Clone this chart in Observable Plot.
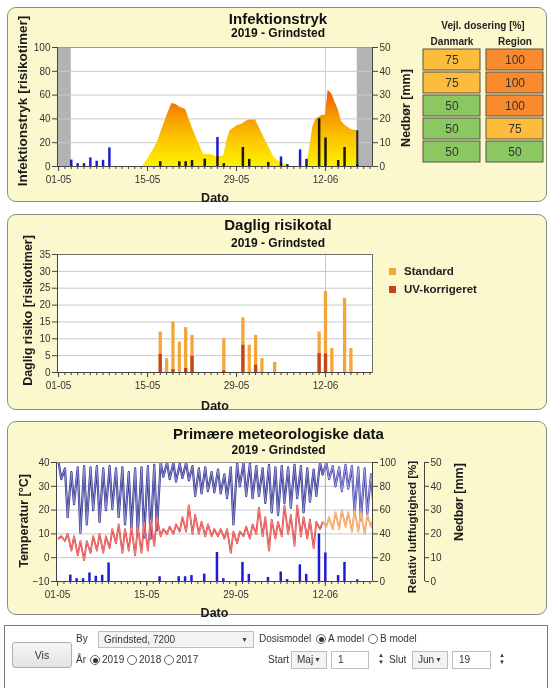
<!DOCTYPE html>
<html><head><meta charset="utf-8">
<script src="https://cdn.jsdelivr.net/npm/d3@7"></script>
<script src="https://cdn.jsdelivr.net/npm/@observablehq/plot@0.6"></script>
<style>
html,body{margin:0;padding:0;background:#fff}
body{position:relative;width:550px;height:688px;overflow:hidden;font-family:Arial,"Liberation Sans",sans-serif}
.panel{position:absolute;left:7px;width:540px;background:#fbf8cd;border:1px solid #8c8c86;border-radius:9px;box-sizing:border-box}
.wrap{position:absolute;left:0}
.wrap svg{overflow:visible;display:block}
.leg{position:absolute;font:bold 11.5px Arial,"Liberation Sans",sans-serif;color:#222;white-space:nowrap;line-height:13px}
.sw{display:inline-block;width:7px;height:7px;margin-right:8px}
.f{position:absolute;font:10px "Liberation Sans",Arial,sans-serif;color:#333;white-space:nowrap;line-height:14px}
.box{position:absolute;border:1px solid #bdbdbd;background:#f3f3f3;box-sizing:border-box;font:10px "Liberation Sans",Arial,sans-serif;color:#333;padding-left:5px;white-space:nowrap}
.box .ar{position:absolute;right:5px;font-size:7px;color:#444}
.in{position:absolute;border:1px solid #bdbdbd;background:#fff;box-sizing:border-box;font:10px "Liberation Sans",Arial,sans-serif;color:#333;padding-left:6px}
.rad{position:absolute;width:10px;height:10px;border:1px solid #666;border-radius:50%;box-sizing:border-box;background:#fff}
.rad.on::after{content:"";position:absolute;left:1.5px;top:1.5px;width:5px;height:5px;border-radius:50%;background:#333}
.spin{position:absolute;font-size:6px;color:#333;line-height:7px}
.btn{position:absolute;border:1px solid #adadad;border-radius:3px;background:linear-gradient(#f6f6f6,#e2e2e2);box-sizing:border-box;font:10.5px "Liberation Sans",Arial,sans-serif;color:#333;text-align:center}
</style></head><body>
<div class="panel" style="top:7px;height:195px"></div>
<div class="panel" style="top:214px;height:196px"></div>
<div class="panel" style="top:421px;height:194px"></div>
<div id="c1" class="wrap" style="top:0"></div>
<div id="c1t" class="wrap" style="top:0;left:418px"></div>
<div id="c2" class="wrap" style="top:207px"></div>
<div id="c3" class="wrap" style="top:415px"></div>
<div id="legend"></div>

<div style="position:absolute;left:4px;top:625px;width:544px;height:70px;border:1px solid #777;box-sizing:border-box;background:#fff"></div>
<div class="btn" style="left:12px;top:642px;width:60px;height:26px;line-height:24px">Vis</div>
<div class="f" style="left:76px;top:632px">By</div>
<div class="box" style="left:98px;top:631px;width:156px;height:17px;line-height:15px">Grindsted, 7200<span class="ar">&#9660;</span></div>
<div class="f" style="left:259px;top:632px">Dosismodel</div>
<div class="rad on" style="left:316px;top:634px"></div><div class="f" style="left:328px;top:632px">A model</div>
<div class="rad" style="left:368px;top:634px"></div><div class="f" style="left:380px;top:632px">B model</div>
<div class="f" style="left:76px;top:653px">År</div>
<div class="rad on" style="left:90px;top:655px"></div><div class="f" style="left:102px;top:653px">2019</div>
<div class="rad" style="left:127px;top:655px"></div><div class="f" style="left:139px;top:653px">2018</div>
<div class="rad" style="left:164px;top:655px"></div><div class="f" style="left:176px;top:653px">2017</div>
<div class="f" style="left:268px;top:653px">Start</div>
<div class="box" style="left:291px;top:651px;width:36px;height:18px;line-height:16px">Maj<span class="ar">&#9660;</span></div>
<div class="in" style="left:331px;top:651px;width:38px;height:18px;line-height:16px">1</div>
<div class="spin" style="left:378px;top:652px">&#9650;<br>&#9660;</div>
<div class="f" style="left:389px;top:653px">Slut</div>
<div class="box" style="left:412px;top:651px;width:36px;height:18px;line-height:16px">Jun<span class="ar">&#9660;</span></div>
<div class="in" style="left:452px;top:651px;width:39px;height:18px;line-height:16px">19</div>
<div class="spin" style="left:499px;top:652px">&#9650;<br>&#9660;</div>

<script>
const parse = s => new Date(s.length === 10 ? s + "T00:00:00Z" : s + ":00Z");

// ---- Infektionstryk (risikotimer) ----
const infDates = ["2019-05-03","2019-05-14T06:00","2019-05-15","2019-05-16","2019-05-16T12:00","2019-05-17","2019-05-18","2019-05-18T20:00","2019-05-19T12:00","2019-05-20","2019-05-21","2019-05-22","2019-05-23","2019-05-23T20:00","2019-05-25","2019-05-26","2019-05-27","2019-05-27T12:00","2019-05-28","2019-05-29","2019-05-30","2019-05-30T12:00","2019-05-31","2019-06-01","2019-06-02","2019-06-03","2019-06-04","2019-06-05","2019-06-06","2019-06-06T18:00","2019-06-09","2019-06-09T12:00","2019-06-10","2019-06-10T12:00","2019-06-11T12:00","2019-06-12","2019-06-12T10:00","2019-06-13","2019-06-13T12:00","2019-06-14","2019-06-14T12:00","2019-06-15","2019-06-16","2019-06-17"];
const infValues = [0,0,6,15,20,27,42,53,52,50,48,33,20,10,10,8,9,22,30,34,36,38,39,39,28,17,7,3,1,0,0,15,33,40,43,43,64,61,54,48,38,35,31,30];

// ---- Nedbør (mm) ----
const rainDates = ["2019-05-03","2019-05-04","2019-05-05","2019-05-06","2019-05-07","2019-05-08","2019-05-09","2019-05-17","2019-05-20","2019-05-21","2019-05-22","2019-05-24","2019-05-26","2019-05-27","2019-05-30","2019-05-31","2019-06-03","2019-06-05","2019-06-06","2019-06-08","2019-06-09","2019-06-11","2019-06-12","2019-06-14","2019-06-15","2019-06-17"];
const rainMm = [2.7,1.2,1.2,3.6,2.2,2.6,7.8,2,2,2,2.5,3.1,12.2,1.2,8,3,1.7,4,0.8,7,3,20,12,2.5,8,0.7];

// ---- Daglig risikotal ----
const riskDates = ["2019-05-17","2019-05-18","2019-05-19","2019-05-20","2019-05-21","2019-05-22","2019-05-27","2019-05-30","2019-05-31","2019-06-01","2019-06-02","2019-06-04","2019-06-11","2019-06-12","2019-06-13","2019-06-15","2019-06-16"];
const riskStandard = [12,4.1,15,9,13.3,11,10,16.2,8.1,11,4.1,3,12,24,7.1,22,7.1];
const riskUV = [5.4,0,0.9,0,1.2,4.8,0.5,8.1,0,2.2,0,0,5.6,5.5,0,0,0];

// ---- Meteorologi, one value per day from 01-05 ----
const metStart = "2019-05-01";
const humNight = [100,95,92,96,97,96,97,95,97,95,96,92,95,96,97,98,100,100,100,99,100,97,95,96,92,94,90,96,99,100,99,97,95,98,96,97,96,98,97,95,94,100,100,97,96,98,97,96,95,90];
const humDay = [86,54,65,41,48,60,50,60,61,54,48,45,40,37,36,43,88,86,84,87,85,72,74,76,75,74,70,48,80,72,70,72,66,58,56,66,62,70,58,67,72,90,86,80,76,78,58,52,57,62];
const tempNight = [8,7,3,1,-1,2,3,2,4,6,2,3,1,2,3,5,9,10,10,11,11,10,10,9,9,9,8,2,6,9,8,10,9,3,8,9,10,5,9,8,4,12,13,12,12,13,11,11,10,13];
const tempDay = [9,10,9,7,7,9,10,9,12,14,12,13,13,15,16,17,12,13,14,17,22,18,15,14,12,12,12,11,11,13,14,21,17,16,15,22,18,22,17,16,15,15,17,19,20,19,20,19,18,17];
const forecastFrom = "2019-06-12";

// ---- Vejl. dosering [%] ----
const doseCols = ["Danmark","Region"];
const doseRows = [1,2,3,4,5];
const doseDanmark = [75,75,50,50,50];
const doseRegion = [100,100,100,75,50];

// ---- axis ticks / ranges ----
const xDomain = [new Date(Date.UTC(2019,3,30,20,0)), new Date(Date.UTC(2019,5,19,9,30))];
const majorTicks = ["2019-05-01","2019-05-15","2019-05-29","2019-06-12"].map(parse);
const minorTicks = d3.utcDay.range(parse("2019-05-01"), parse("2019-06-20"));
const markerDate = [parse("2019-06-12")];
const outside = [[xDomain[0], parse("2019-05-03")], [parse("2019-06-17"), xDomain[1]]];

const inf = infDates.map((d,i) => ({date: parse(d), value: infValues[i]}));
const rain = rainDates.map((d,i) => ({date: parse(d), mm: rainMm[i]}));
const risk = riskDates.map((d,i) => ({date: parse(d), std: riskStandard[i], uv: riskUV[i]}));
const t0 = parse(metStart);
const hum = [], temp = [];
humNight.forEach((v,i) => {
  const day = d3.utcDay.offset(t0, i);
  hum.push({date: d3.utcHour.offset(day, 4), h: v}, {date: d3.utcHour.offset(day, 14), h: humDay[i]});
  temp.push({date: d3.utcHour.offset(day, 4), t: tempNight[i]}, {date: d3.utcHour.offset(day, 14), t: tempDay[i]});
});
const split = parse(forecastFrom);
function segs(arr){
  const a = arr.filter(d => d.date < split);
  const b = [a[a.length-1], ...arr.filter(d => d.date >= split)];
  return [a, b];
}
const [humObs, humFc] = segs(hum);
const [tempObs, tempFc] = segs(temp);

const FONT = "Arial, 'Liberation Sans', sans-serif";
const fmt = d3.utcFormat("%d-%m");
const style = {background: "transparent", fontFamily: FONT, color: "#333", overflow: "visible"};

function xAxes(){
  return [
    Plot.axisX({ticks: minorTicks, tickSize: 3, fill: "none", stroke: "#444", label: null}),
    Plot.axisX({ticks: majorTicks, tickSize: 5, tickPadding: 4, tickFormat: fmt, fontSize: 10, stroke: "#444", fill: "#333", label: null})
  ];
}
const tTitle = (s, dx, dy, size) => Plot.text([s], {frameAnchor: "top", dx, dy, fontSize: size, fontWeight: "bold", fill: "#111", textAnchor: "middle", lineAnchor: "middle"});
const vLabel = (s, anchor, dx, dy, size) => Plot.text([s], {frameAnchor: anchor, dx, dy, rotate: -90, fontSize: size, fontWeight: "bold", fill: "#1a1a1a", textAnchor: "middle", lineAnchor: "middle"});
const dato = dy => Plot.text(["Dato"], {frameAnchor: "bottom", dy, fontSize: 12.5, fontWeight: "bold", fill: "#1a1a1a", textAnchor: "middle", lineAnchor: "middle"});

// ---------- Panel 1 ----------
const p1 = Plot.plot({
  width: 550, height: 205,
  marginLeft: 57, marginRight: 178, marginTop: 47, marginBottom: 39,
  style,
  x: {type: "utc", domain: xDomain},
  y: {domain: [0, 100]},
  marks: [
    Plot.frame({fill: "white", stroke: null}),
    Plot.rectY(outside, {x1: d => d[0], x2: d => d[1], y1: 0, y2: 100, fill: "#b3b3b3"}),
    Plot.gridY([20,40,60,80], {stroke: "#c9c9c9", strokeOpacity: 1}),
    Plot.ruleX(markerDate, {stroke: "#d0d0d0"}),
    Plot.areaY(inf, {x: "date", y: "value", fill: "url(#infgrad)"}),
    Plot.ruleX(inf.slice(-1), {x: "date", y1: 0, y2: "value", stroke: "#222", strokeWidth: 2}),
    Plot.ruleX(rain, {x: "date", y1: 0, y2: d => d.mm * 2, stroke: "#1c1cd4", strokeWidth: 2.5, mixBlendMode: "multiply"}),
    Plot.frame({stroke: "#9a9a9a"}),
    Plot.ruleX([xDomain[0], xDomain[1]], {stroke: "#444"}),
    Plot.ruleY([0], {stroke: "#444"}),
    Plot.axisY({ticks: [0,20,40,60,80,100], tickSize: 5, tickPadding: 2, fontSize: 10, stroke: "#444", label: null}),
    Plot.axisY({anchor: "right", ticks: [0,20,40,60,80,100], tickFormat: d => d / 2, tickSize: 5, tickPadding: 2, fontSize: 10, stroke: "#444", label: null}),
    ...xAxes(),
    vLabel("Infektionstryk [risikotimer]", "left", -35, -6, 13.5),
    vLabel("Nedbør [mm]", "right", 33, 1, 12.5),
    dato(31),
    tTitle("Infektionstryk", 63, -28, 15),
    tTitle("2019 - Grindsted", 63, -14, 12)
  ]
});
{
  const ns = "http://www.w3.org/2000/svg";
  const ys = p1.scale("y");
  const defs = document.createElementNS(ns, "defs");
  const lg = document.createElementNS(ns, "linearGradient");
  lg.setAttribute("id", "infgrad");
  lg.setAttribute("gradientUnits", "userSpaceOnUse");
  lg.setAttribute("x1", 0); lg.setAttribute("x2", 0);
  lg.setAttribute("y1", ys.apply(0)); lg.setAttribute("y2", ys.apply(65));
  [[0,"#fcf200"],[0.35,"#fcc600"],[0.6,"#f8a000"],[1,"#ee5800"]].forEach(([o,c]) => {
    const s = document.createElementNS(ns, "stop");
    s.setAttribute("offset", o); s.setAttribute("stop-color", c);
    lg.appendChild(s);
  });
  defs.appendChild(lg);
  p1.insertBefore(defs, p1.firstChild);
}
document.getElementById("c1").appendChild(p1);

// dosing table
const doseCells = doseRows.flatMap((r,i) => [
  {col: doseCols[0], row: r, v: doseDanmark[i]},
  {col: doseCols[1], row: r, v: doseRegion[i]}
]);
const pt = Plot.plot({
  width: 130, height: 170,
  marginLeft: 4, marginRight: 5, marginTop: 47, marginBottom: 7,
  style,
  x: {type: "band", domain: doseCols, paddingInner: 0.1, paddingOuter: 0},
  y: {type: "band", domain: doseRows, paddingInner: 0.1, paddingOuter: 0, axis: null},
  color: {type: "ordinal", domain: [50, 75, 100], range: ["#8cc862", "#fbbd3b", "#f98a2e"]},
  marks: [
    Plot.cell(doseCells, {x: "col", y: "row", fill: "v", stroke: "#5b5344", strokeWidth: 1, inset: 0}),
    Plot.text(doseCells, {x: "col", y: "row", text: "v", fontSize: 12, fill: "#333"}),
    Plot.axisX({anchor: "top", tickSize: 0, tickPadding: 3, fontSize: 10, fontWeight: "bold", fill: "#222", label: null}),
    Plot.text(["Vejl. dosering [%]"], {frameAnchor: "top", dy: -22, fontSize: 10, fontWeight: "bold", fill: "#222", textAnchor: "middle", lineAnchor: "middle"})
  ]
});
document.getElementById("c1t").appendChild(pt);

// ---------- Panel 2 ----------
const p2 = Plot.plot({
  width: 550, height: 205,
  marginLeft: 57, marginRight: 178, marginTop: 47, marginBottom: 40,
  style,
  x: {type: "utc", domain: xDomain},
  y: {domain: [0, 35]},
  marks: [
    Plot.frame({fill: "white", stroke: null}),
    Plot.gridY([5,10,15,20,25,30], {stroke: "#c9c9c9", strokeOpacity: 1}),
    Plot.ruleX(markerDate, {stroke: "#c8c8c8"}),
    Plot.ruleX(risk, {x: "date", y1: 0, y2: "std", stroke: "#f5a638", strokeWidth: 3.3}),
    Plot.ruleX(risk.filter(d => d.uv > 0), {x: "date", y1: 0, y2: "uv", stroke: "#c4461c", strokeWidth: 3.3}),
    Plot.frame({stroke: "#707070"}),
    Plot.ruleX([xDomain[0]], {stroke: "#444"}),
    Plot.ruleY([0], {stroke: "#444"}),
    Plot.axisY({ticks: [0,5,10,15,20,25,30,35], tickSize: 5, tickPadding: 2, fontSize: 10, stroke: "#444", label: null}),
    ...xAxes(),
    vLabel("Daglig risiko [risikotimer]", "left", -30, -3, 12.5),
    dato(33),
    tTitle("Daglig risikotal", 63, -29, 15),
    tTitle("2019 - Grindsted", 63, -11, 12)
  ]
});
document.getElementById("c2").appendChild(p2);

// legend (panel 2)
document.getElementById("legend").innerHTML =
  '<div class="leg" style="left:389px;top:265px"><span class="sw" style="background:#f5a638"></span>Standard</div>' +
  '<div class="leg" style="left:389px;top:283px"><span class="sw" style="background:#c4461c"></span>UV-korrigeret</div>';

// ---------- Panel 3 ----------
const hy = d => -10 + d.h / 2;
const p3 = Plot.plot({
  width: 550, height: 205,
  marginLeft: 56, marginRight: 178, marginTop: 47, marginBottom: 39,
  style,
  x: {type: "utc", domain: xDomain},
  y: {domain: [-10, 40]},
  marks: [
    Plot.frame({fill: "white", stroke: null}),
    Plot.gridY([0,10,20,30], {stroke: "#c9c9c9", strokeOpacity: 1}),
    Plot.ruleX(markerDate, {stroke: "#a8a8a8"}),
    Plot.ruleX(rain, {x: "date", y1: -10, y2: d => -10 + d.mm, stroke: "#1c1cd4", strokeWidth: 2.5}),
    Plot.line(humObs, {x: "date", y: hy, stroke: "#2e2e88", strokeWidth: 2.2, clip: true}),
    Plot.line(humObs, {x: "date", y: hy, stroke: "#a6a6e6", strokeWidth: 0.8, clip: true}),
    Plot.line(humFc, {x: "date", y: hy, stroke: "#4040a8", strokeWidth: 2.2, clip: true}),
    Plot.line(humFc, {x: "date", y: hy, stroke: "#b8b8f0", strokeWidth: 0.8, clip: true}),
    Plot.line(tempObs, {x: "date", y: "t", stroke: "#dc3434", strokeWidth: 1.8, clip: true}),
    Plot.line(tempObs, {x: "date", y: "t", stroke: "#f6a0a0", strokeWidth: 0.7, clip: true}),
    Plot.line(tempFc, {x: "date", y: "t", stroke: "#ee9040", strokeWidth: 1.8, clip: true}),
    Plot.line(tempFc, {x: "date", y: "t", stroke: "#fcd4a8", strokeWidth: 0.7, clip: true}),
    Plot.frame({stroke: "#909090"}),
    Plot.ruleX([xDomain[0], xDomain[1]], {stroke: "#444"}),
    Plot.ruleY([-10], {stroke: "#444"}),
    Plot.axisY({ticks: [-10,0,10,20,30,40], tickSize: 5, tickPadding: 2, fontSize: 10, stroke: "#444", label: null}),
    Plot.axisY({anchor: "right", ticks: [-10,0,10,20,30,40], tickFormat: d => (d + 10) * 2, tickSize: 5, tickPadding: 2, fontSize: 10, stroke: "#444", label: null}),
    Plot.ruleX([xDomain[1]], {y1: -10, y2: 40, dx: 52, stroke: "#444"}),
    Plot.axisY({anchor: "right", ticks: [-10,0,10,20,30,40], tickFormat: d => d + 10, tickSize: 4, tickPadding: 2, fontSize: 10, stroke: "#444", dx: 52, label: null}),
    ...xAxes(),
    vLabel("Temperatur [°C]", "left", -33, -1, 12.5),
    vLabel("Relativ luftfugtighed [%]", "right", 40, 5, 11.5),
    vLabel("Nedbør [mm]", "right", 86, -20, 12.5),
    dato(31),
    tTitle("Primære meteorologiske data", 64, -28, 15),
    tTitle("2019 - Grindsted", 64, -12, 12)
  ]
});
document.getElementById("c3").appendChild(p3);
</script>
</body></html>
